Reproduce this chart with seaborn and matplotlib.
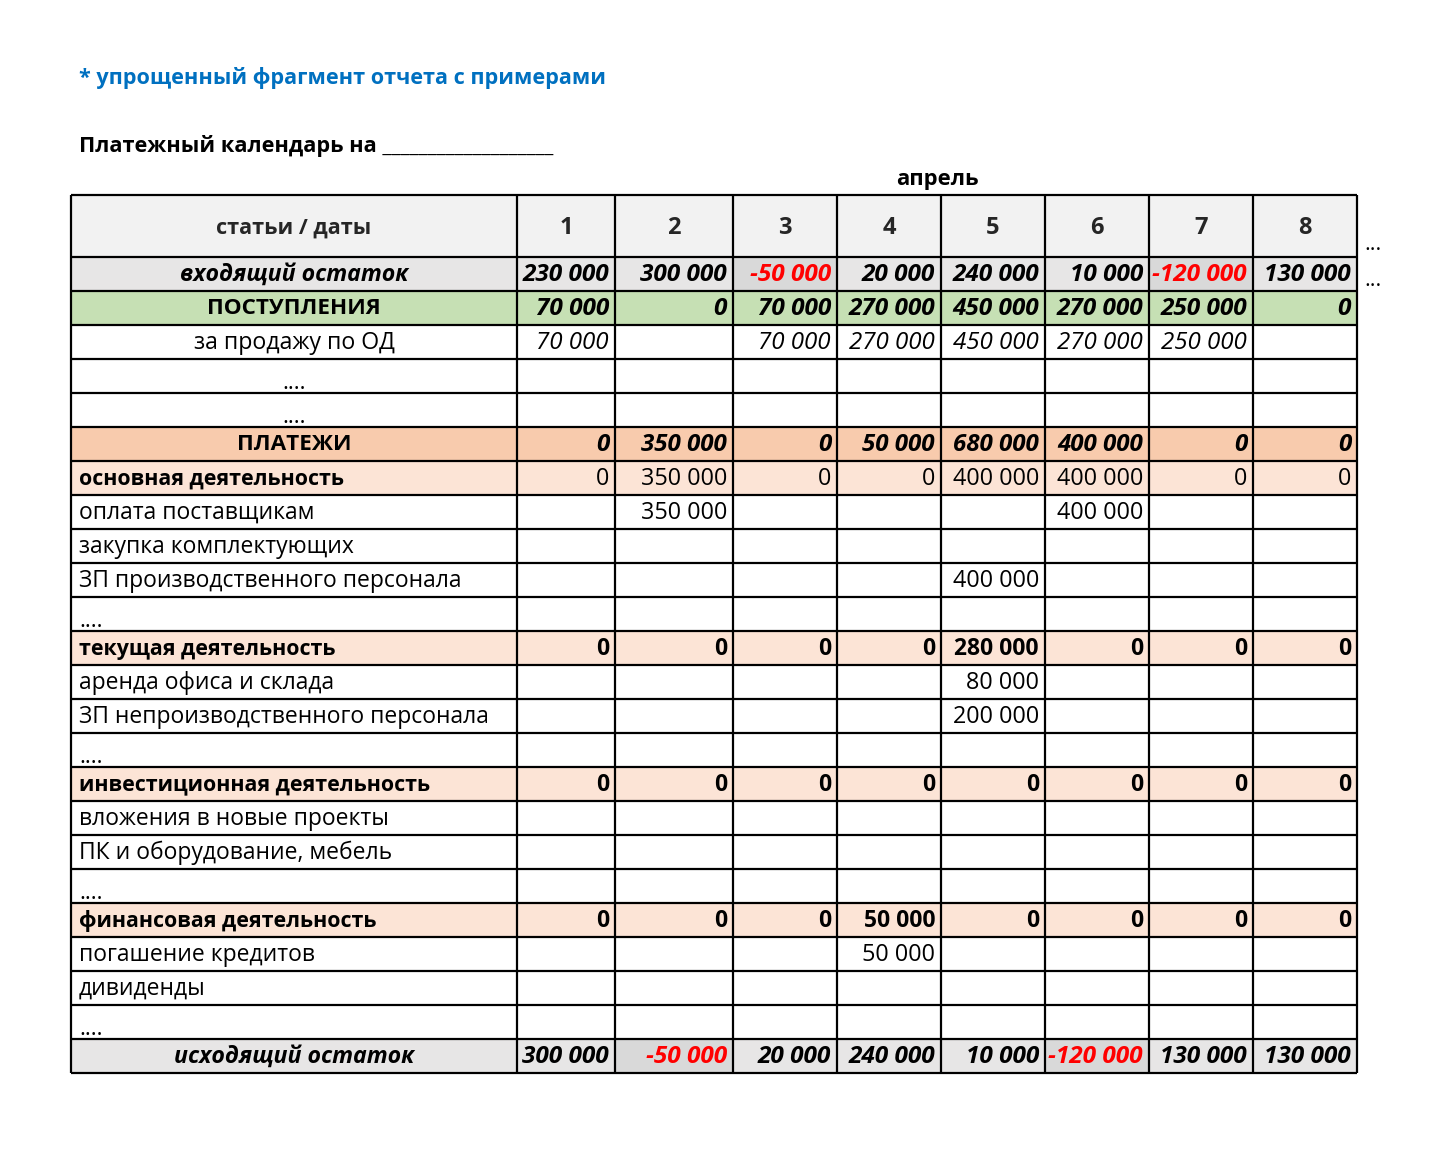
import matplotlib
matplotlib.use("Agg")
import matplotlib.pyplot as plt
import seaborn as sns
import numpy as np
from matplotlib.colors import ListedColormap

sns.set_theme(style="white")
plt.rcParams['font.family'] = ['Open Sans', 'DejaVu Sans']

# ---------------- data ----------------
title = "* упрощенный фрагмент отчета с примерами"
subtitle = "Платежный календарь на ___________________"
month = "апрель"
header_label = "статьи / даты"
days = ["1", "2", "3", "4", "5", "6", "7", "8"]

row_labels = [
    "входящий остаток", "ПОСТУПЛЕНИЯ", "за продажу по ОД", "....", "....",
    "ПЛАТЕЖИ", "основная деятельность", "оплата поставщикам",
    "закупка комплектующих", "ЗП производственного персонала", "....",
    "текущая деятельность", "аренда офиса и склада",
    "ЗП непроизводственного персонала", "....",
    "инвестиционная деятельность", "вложения в новые проекты",
    "ПК и оборудование, мебель", "....",
    "финансовая деятельность", "погашение кредитов", "дивиденды", "....",
    "исходящий остаток",
]
row_kinds = [
    "balance", "green", "item_c", "dots_c", "dots_c",
    "orange", "sub_n", "item", "item", "item", "dots",
    "sub_b", "item", "item", "dots",
    "sub_b", "item", "item", "dots",
    "sub_b", "item", "item", "dots",
    "balance",
]

N = None
incoming       = [230000, 300000, -50000, 20000, 240000, 10000, -120000, 130000]
receipts_total = [70000, 0, 70000, 270000, 450000, 270000, 250000, 0]
sales_od       = [70000, N, 70000, 270000, 450000, 270000, 250000, N]
payments_total = [0, 350000, 0, 50000, 680000, 400000, 0, 0]
operating      = [0, 350000, 0, 0, 400000, 400000, 0, 0]
suppliers      = [N, 350000, N, N, N, 400000, N, N]
components     = [N] * 8
prod_salary    = [N, N, N, N, 400000, N, N, N]
current_ops    = [0, 0, 0, 0, 280000, 0, 0, 0]
rent           = [N, N, N, N, 80000, N, N, N]
nonprod_salary = [N, N, N, N, 200000, N, N, N]
investing      = [0, 0, 0, 0, 0, 0, 0, 0]
new_projects   = [N] * 8
equipment      = [N] * 8
financing      = [0, 0, 0, 50000, 0, 0, 0, 0]
loans          = [N, N, N, 50000, N, N, N, N]
dividends      = [N] * 8
outgoing       = [300000, -50000, 20000, 240000, 10000, -120000, 130000, 130000]
empty          = [N] * 8

row_values = [
    incoming, receipts_total, sales_od, empty, empty,
    payments_total, operating, suppliers, components, prod_salary, empty,
    current_ops, rent, nonprod_salary, empty,
    investing, new_projects, equipment, empty,
    financing, loans, dividends, empty,
    outgoing,
]

# ---------------- layout ----------------
W, H = 1440, 1176
fig = plt.figure(figsize=(W / 100, H / 100), dpi=100)
ax = fig.add_axes([0, 0, 1, 1])
ax.set_xlim(0, W)
ax.set_ylim(H, 0)
ax.axis("off")

x_edges = np.array([71, 517, 615, 733, 837, 941, 1045, 1149, 1253, 1357])
row_h = 34
y_top = 195
y_head = 257
y_edges = np.concatenate([[y_top], y_head + row_h * np.arange(len(row_labels) + 1)])

palette = ["#FFFFFF", "#F2F2F2", "#E7E6E6", "#D9D9D9", "#C6E0B4", "#F8CBAD", "#FCE4D6"]
kind_bg = {"balance": 2, "green": 4, "item_c": 0, "dots_c": 0, "orange": 5,
           "sub_n": 6, "sub_b": 6, "item": 0, "dots": 0}

nrows = len(row_labels) + 1
ncols = len(days) + 1
colors = np.zeros((nrows, ncols), dtype=int)
colors[0, :] = 1
for i, (kind, vals) in enumerate(zip(row_kinds, row_values)):
    colors[i + 1, :] = kind_bg[kind]
    if kind == "balance":
        for j, v in enumerate(vals):
            if v is not None and v < 0:
                colors[i + 1, j + 1] = 3

ax.pcolormesh(x_edges, y_edges, colors, cmap=ListedColormap(palette),
              vmin=-0.5, vmax=len(palette) - 0.5, shading="flat")

# grid lines
ax.hlines(y_edges, x_edges[0], x_edges[-1], color="black", lw=1.6)
ax.vlines(x_edges, y_edges[0], y_edges[-1], color="black", lw=1.6)

# ---------------- text ----------------
ax.text(79, 78, title, color="#0070C0", fontsize=15.6, fontweight="bold",
        ha="left", va="center")
ax.text(79, 146, subtitle, color="black", fontsize=15.7, fontweight="bold",
        ha="left", va="center")
ax.text(937, 180, month, color="black", fontsize=15.8, fontweight="bold",
        ha="center", va="center")
ax.text(1373, 245, "...", fontsize=15.8, ha="center", va="center", color="black")
ax.text(1373, 280, "...", fontsize=15.8, ha="center", va="center", color="black")

hy = (y_edges[0] + y_edges[1]) / 2 + 2
ax.text((x_edges[0] + x_edges[1]) / 2, hy, header_label, fontsize=15.6,
        fontweight="bold", ha="center", va="center")
for j, d in enumerate(days):
    ax.text((x_edges[j + 1] + x_edges[j + 2]) / 2, hy, d, fontsize=17,
            fontweight="bold", ha="center", va="center")

label_style = {
    "balance": dict(weight="bold", style="italic", ha="center", size=16.7),
    "green": dict(weight="bold", style="normal", ha="center", size=16.2),
    "item_c": dict(weight="normal", style="normal", ha="center", size=16.7),
    "dots_c": dict(weight="normal", style="normal", ha="center", size=16.5),
    "orange": dict(weight="bold", style="normal", ha="center", size=16.2),
    "sub_n": dict(weight="bold", style="normal", ha="left", size=15.4),
    "sub_b": dict(weight="bold", style="normal", ha="left", size=15.4),
    "item": dict(weight="normal", style="normal", ha="left", size=16.5),
    "dots": dict(weight="normal", style="normal", ha="left", size=16.5),
}
num_style = {
    "balance": dict(weight="bold", style="italic", size=17.6),
    "green": dict(weight="bold", style="italic", size=17.6),
    "item_c": dict(weight="normal", style="italic", size=17.4),
    "orange": dict(weight="bold", style="italic", size=17.4),
    "sub_n": dict(weight="normal", style="normal", size=16.8),
    "sub_b": dict(weight="bold", style="normal", size=16.5),
    "item": dict(weight="normal", style="normal", size=16.8),
    "dots": dict(weight="normal", style="normal", size=16.8),
    "dots_c": dict(weight="normal", style="normal", size=16.8),
}


def fmt(v):
    return f"{v:,}".replace(",", " ")


for i, (lab, kind, vals) in enumerate(zip(row_labels, row_kinds, row_values)):
    y0, y1 = y_edges[i + 1], y_edges[i + 2]
    yc = (y0 + y1) / 2 + 1
    st = label_style[kind]
    if st["ha"] == "center":
        lx = (x_edges[0] + x_edges[1]) / 2
    else:
        lx = 79
    ly = yc + 6 if kind in ("dots", "dots_c") else yc
    ax.text(lx, ly, lab, fontsize=st["size"], fontweight=st["weight"],
            fontstyle=st["style"], ha=st["ha"], va="center", color="black")
    ns = num_style[kind]
    for j, v in enumerate(vals):
        if v is None:
            continue
        ax.text(x_edges[j + 2] - 6, yc, fmt(v), fontsize=ns["size"],
                fontweight=ns["weight"], fontstyle=ns["style"],
                ha="right", va="center", color="#FF0000" if v < 0 else "black")

fig.savefig("out.png", dpi=100, facecolor="white")
